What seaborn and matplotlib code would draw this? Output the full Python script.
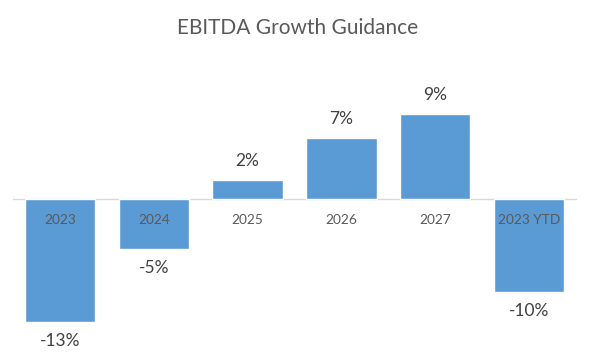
import matplotlib
matplotlib.use("Agg")
import matplotlib.pyplot as plt
import seaborn as sns
import pandas as pd

categories = ["2023", "2024", "2025", "2026", "2027", "2023 YTD"]
growth = [-13.4, -5.4, 2.1, 6.6, 9.3, -10.1]
title = "EBITDA Growth Guidance"

sns.set_style("white")
plt.rcParams["font.family"] = ["Lato", "DejaVu Sans"]

df = pd.DataFrame({"year": categories, "growth": growth})

fig = plt.figure(figsize=(5.95, 3.55), dpi=100)
ax = fig.add_axes([13 / 595, 0.0516, 563 / 595, 0.75])
sns.barplot(data=df, x="year", y="growth", color="#5B9BD5", saturation=1,
            width=0.75, ax=ax, order=categories)
for p in ax.patches:
    p.set_zorder(1)

ax.set_ylim(-15, 14)
ax.set_xlim(-0.5, len(categories) - 0.5)
for s in ["top", "right", "left"]:
    ax.spines[s].set_visible(False)
ax.spines["bottom"].set_position(("data", 0))
ax.spines["bottom"].set_color("#D9D9D9")
ax.spines["bottom"].set_linewidth(1)
ax.spines["bottom"].set_zorder(0.5)
ax.set_yticks([])
ax.tick_params(axis="x", length=0, pad=11, labelsize=9.8, labelcolor="#595959")
ax.xaxis.set_zorder(5)
ax.set_xlabel("")
ax.set_ylabel("")

for i, v in enumerate(growth):
    off = 19 if v >= 0 else -19
    ax.annotate(f"{v:.0f}%", (i, v), xytext=(0, off), textcoords="offset pixels",
                ha="center", va="center", fontsize=12.5, color="#404040")

fig.text(0.5, 1 - 28 / 355, title, ha="center", va="center", fontsize=15,
         color="#595959")

fig.savefig("out.png", dpi=100)
